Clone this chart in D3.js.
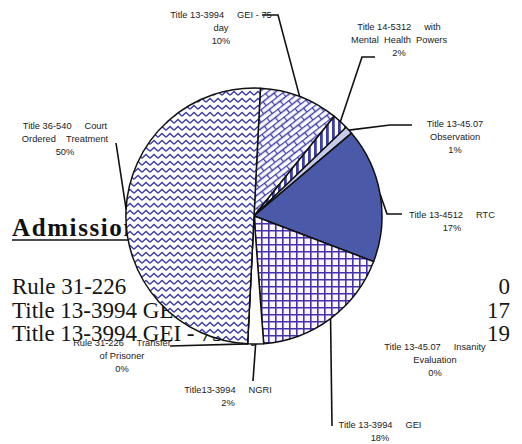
<!DOCTYPE html>
<html>
<head>
<meta charset="utf-8">
<script src="https://cdn.jsdelivr.net/npm/d3@7/dist/d3.min.js"></script>
<style>
body { margin: 0; background: #fff; }
svg { display: block; }
</style>
</head>
<body>
<script>
// slice names (clockwise from 12 o'clock) and their shares
const sliceNames = [
  "Title 13-3994 GEI - 75 day",
  "Title 14-5312 with Mental Health Powers",
  "Title 13-45.07 Observation",
  "Title 13-4512 RTC",
  "Title 13-45.07 Insanity Evaluation",
  "Title 13-3994 GEI",
  "Title13-3994 NGRI",
  "Rule 31-226 Transfer of Prisoner",
  "Title 36-540 Court Ordered Treatment"
];
const slicePercents = [10, 2, 1, 17, 0, 18, 2, 0, 50];
const sliceFills = ["brick", "vstripe", "light", "solid", "none", "grid", "white", "none", "zigzag"];

// text of the page behind the chart
const pageTitle = "Admissions";
const pageRows = ["Rule 31-226", "Title 13-3994 GEI", "Title 13-3994 GEI - 75 day"];
const pageCounts = ["0", "17", "19"];

const W = 522, H = 444;
const cx = 254, cy = 216, r = 128;
const blue = "#3d3daa";
const serif = "'Liberation Serif', 'Times New Roman', Times, serif";
const sans = "'Liberation Sans', Arial, sans-serif";

const svg = d3.select("body").append("svg")
  .attr("width", W).attr("height", H)
  .attr("viewBox", `0 0 ${W} ${H}`);

// ---- page text underneath ----
const title = svg.append("text")
  .attr("x", 12).attr("y", 236)
  .style("font-family", serif)
  .attr("font-weight", "bold")
  .attr("font-size", 25)
  .attr("letter-spacing", 1.6)
  .attr("fill", "#111")
  .text(pageTitle);
const tw = title.node().getComputedTextLength();
svg.append("line")
  .attr("x1", 12).attr("x2", 12 + tw)
  .attr("y1", 240).attr("y2", 240)
  .attr("stroke", "#111").attr("stroke-width", 1.6);

const rowY = d3.scalePoint().domain(d3.range(pageRows.length)).range([294, 341]);
pageRows.forEach((t, i) => {
  svg.append("text")
    .attr("x", 12).attr("y", rowY(i))
    .style("font-family", serif)
    .attr("font-size", 23).attr("fill", "#151515")
    .text(t);
  svg.append("text")
    .attr("x", 510).attr("y", rowY(i))
    .attr("text-anchor", "end")
    .style("font-family", serif)
    .attr("font-size", 23).attr("fill", "#151515")
    .text(pageCounts[i]);
});

// ---- patterns ----
const defs = svg.append("defs");

const zig = defs.append("pattern").attr("id", "zigzag")
  .attr("patternUnits", "userSpaceOnUse").attr("width", 8).attr("height", 7);
zig.append("rect").attr("width", 8).attr("height", 7).attr("fill", "#fff");
zig.append("path").attr("d", "M0,5.2 L4,1.4 L8,5.2")
  .attr("fill", "none").attr("stroke", blue).attr("stroke-width", 1.4);

const brick = defs.append("pattern").attr("id", "brick")
  .attr("patternUnits", "userSpaceOnUse").attr("width", 14).attr("height", 10)
  .attr("patternTransform", "rotate(-38)");
brick.append("rect").attr("width", 14).attr("height", 10).attr("fill", "#fff");
brick.append("path").attr("d", "M0,0.5 H14 M0,5.5 H14 M0.5,0.5 V5.5 M7.5,5.5 V10")
  .attr("fill", "none").attr("stroke", blue).attr("stroke-width", 1.3);

const vs = defs.append("pattern").attr("id", "vstripe")
  .attr("patternUnits", "userSpaceOnUse").attr("width", 6).attr("height", 6);
vs.append("rect").attr("width", 6).attr("height", 6).attr("fill", "#fff");
vs.append("rect").attr("width", 2.8).attr("height", 6).attr("fill", blue);

const grid = defs.append("pattern").attr("id", "grid")
  .attr("patternUnits", "userSpaceOnUse").attr("width", 7).attr("height", 7);
grid.append("rect").attr("width", 7).attr("height", 7).attr("fill", "#fbf6ff");
grid.append("path").attr("d", "M0.8,0 V7 M0,0.8 H7")
  .attr("fill", "none").attr("stroke", "#4433aa").attr("stroke-width", 1.6);

const fillOf = k => ({
  brick: "url(#brick)", vstripe: "url(#vstripe)", light: "#c6cbe9",
  solid: "#4a59a8", grid: "url(#grid)", white: "#fff", zigzag: "url(#zigzag)", none: "#fff"
})[k];

// ---- pie ----
const start = 0.05;
const pie = d3.pie().sort(null).value(d => d)
  .startAngle(start).endAngle(start + 2 * Math.PI);
const arcs = pie(slicePercents);
const arc = d3.arc().innerRadius(0).outerRadius(r);
const edge = d3.arc().innerRadius(r).outerRadius(r);

const g = svg.append("g").attr("transform", `translate(${cx},${cy})`);
g.selectAll("path.slice")
  .data(arcs)
  .join("path")
  .attr("class", "slice")
  .attr("d", arc)
  .attr("fill", (d, i) => fillOf(sliceFills[i]))
  .attr("stroke", "#111")
  .attr("stroke-width", 1.5)
  .attr("stroke-linejoin", "round");

// ---- labels and leader lines (layout) ----
const labelLayout = [
  { x: 221, y: 18, lines: ["Title 13-3994     GEI - 75", "day", "10%"], leader: [[278, 15], [262, 15]] },
  { x: 399, y: 30, lines: ["Title 14-5312     with", "Mental  Health  Powers", "2%"], leader: [[362, 57], [375, 57]] },
  { x: 455, y: 127, lines: ["Title 13-45.07", "Observation", "1%"], leader: [[390, 125], [412, 125]] },
  { x: 452, y: 218, lines: ["Title 13-4512     RTC", "17%"], leader: [[387, 214], [402, 214]] },
  { x: 435, y: 350, lines: ["Title 13-45.07     Insanity", "Evaluation", "0%"], leader: null },
  { x: 380, y: 428, lines: ["Title 13-3994     GEI", "18%"], leader: [[332, 426]] },
  { x: 228, y: 393, lines: ["Title13-3994     NGRI", "2%"], leader: [[253, 381]] },
  { x: 122, y: 346, lines: ["Rule 31-226     Transfer", "of Prisoner", "0%"], leader: [[170, 346]] },
  { x: 65, y: 129, lines: ["Title 36-540     Court", "Ordered    Treatment", "50%"], leader: [[116, 143]] }
];

const line = d3.line();
arcs.forEach((a, i) => {
  const L = labelLayout[i];
  if (L.leader) {
    const p = edge.centroid(a);
    const pts = [[p[0] + cx, p[1] + cy]].concat(L.leader);
    svg.append("path")
      .attr("d", line(pts))
      .attr("fill", "none").attr("stroke", "#111").attr("stroke-width", 1.6);
  }
  const t = svg.append("text")
    .style("font-family", sans)
    .attr("font-size", 9.3)
    .attr("fill", "#222")
    .attr("text-anchor", "middle")
    .attr("xml:space", "preserve")
    .style("white-space", "pre");
  L.lines.forEach((s, j) => {
    t.append("tspan").attr("x", L.x).attr("y", L.y + j * 13).text(s);
  });
});
</script>
</body>
</html>
